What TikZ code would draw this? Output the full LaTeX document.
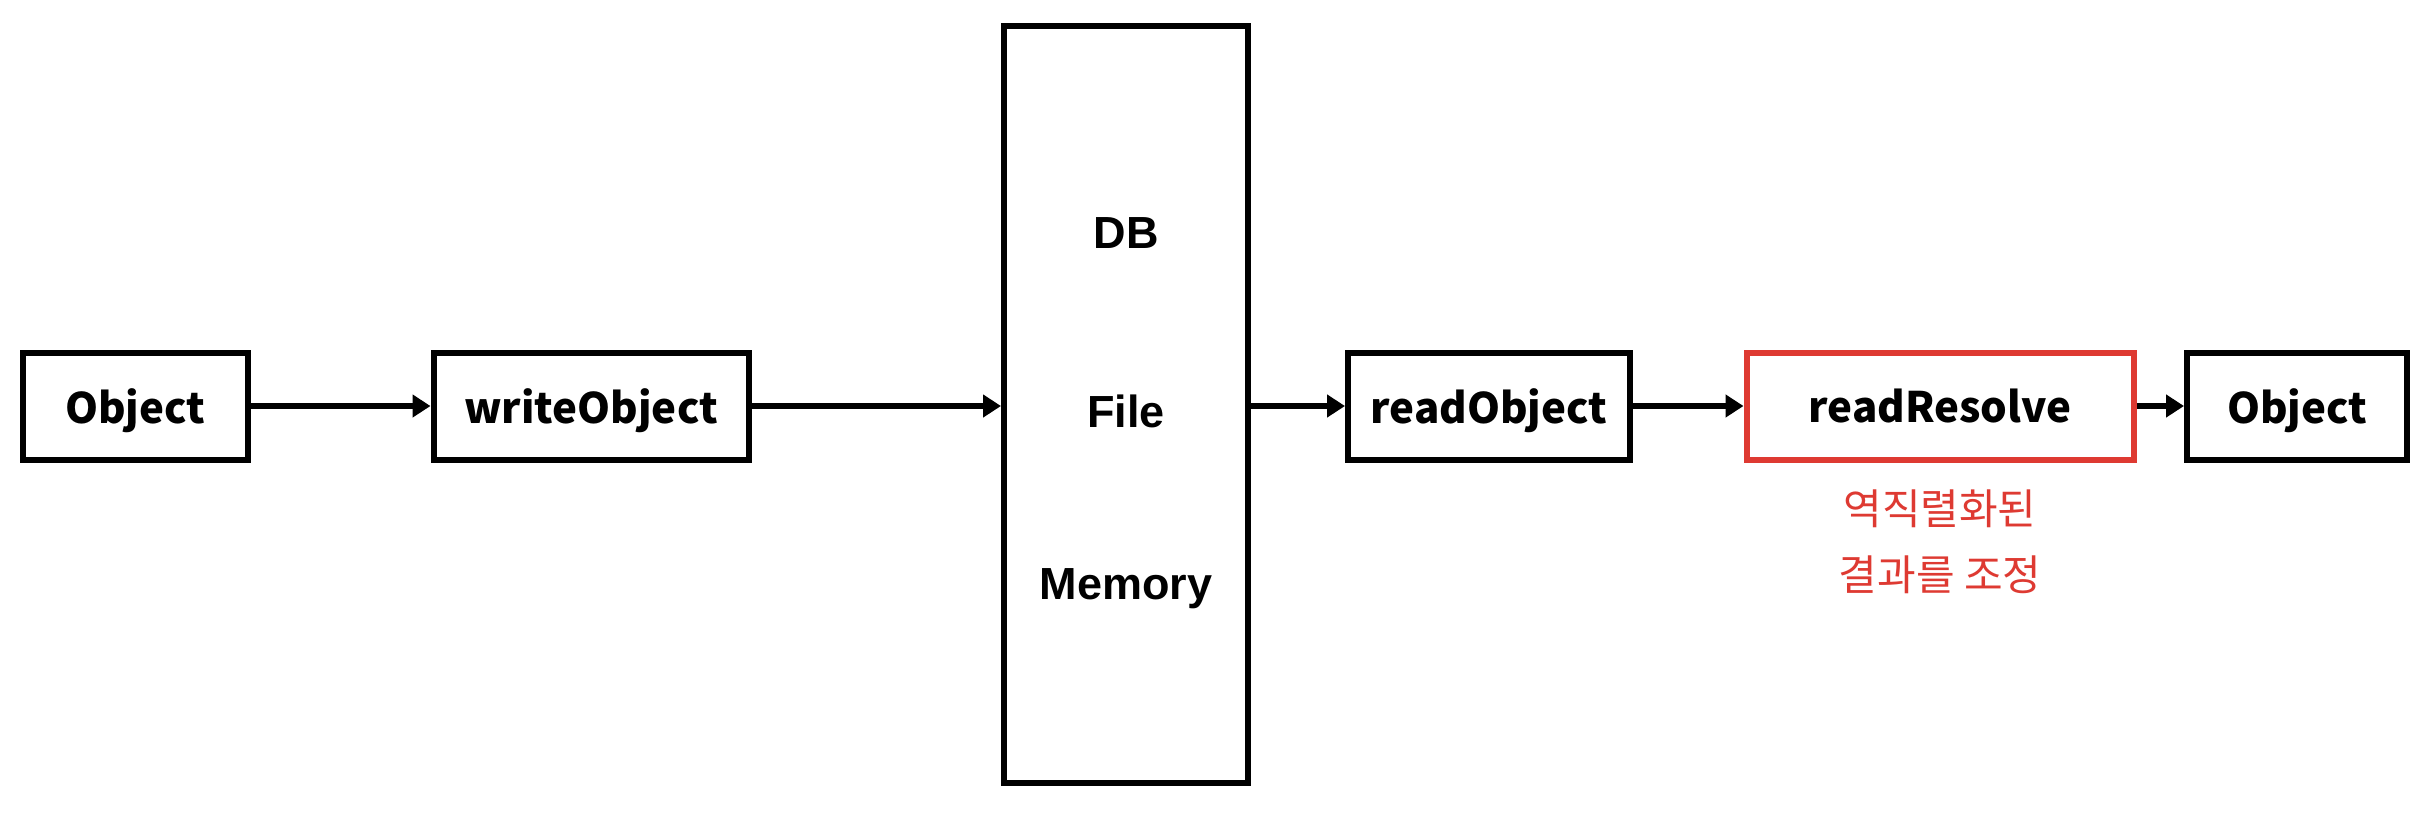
\documentclass[tikz,border=0pt]{standalone}
\usepackage{fontspec}
\setmainfont{Noto Sans CJK KR}
\newfontfamily\wideface{Liberation Sans}
\usetikzlibrary{arrows.meta}

\definecolor{resolvered}{RGB}{222,58,50}

\begin{document}
\begin{tikzpicture}[x=0.5pt,y=-0.5pt]

\tikzset{
  step box/.style={
    draw, line width=3pt,
    minimum height=53.5pt, text depth=0pt,
    font=\fontsize{21}{25}\selectfont\bfseries,
  },
  store label/.style={
    font=\wideface\fontsize{22.5}{25}\selectfont\bfseries,
  },
  flow arrow/.style={
    line width=2.6pt,
    -{Triangle[length=9pt,width=11pt]},
  }
}

\useasboundingbox (0,0) rectangle (2430,816);

% Serialization side
\node[step box, minimum width=112.5pt] (src) at (135,406) {Object};
\node[step box, minimum width=157.5pt] (write) at (591,406) {writeObject};

% Storage
\node[draw, line width=3pt, minimum width=122pt, minimum height=378.5pt] (store) at (1126,404) {};
\node[store label] (db) at (1126,233) {DB};
\node[store label] (file) at (1126,411) {File};
\node[store label] (mem) at (1126,589) {Memory};

% Deserialization side
\node[step box, minimum width=141pt] (read) at (1489,406) {readObject};
\node[step box, draw=resolvered, minimum width=193.5pt] (resolve) at (1940,406) {readResolve};
\node[step box, minimum width=110pt] (dst) at (2297,406) {Object};

\node[text=resolvered, align=center, font=\fontsize{21}{33}\selectfont] (note) at (1940,542) {역직렬화된\\결과를 조정};

% Arrows
\draw[flow arrow] (src) -- (write);
\draw[flow arrow] (write) -- (write -| store.west);
\draw[flow arrow] (read -| store.east) -- (read);
\draw[flow arrow] (read) -- (resolve);
\draw[flow arrow] (resolve) -- (dst);

\end{tikzpicture}
\end{document}
